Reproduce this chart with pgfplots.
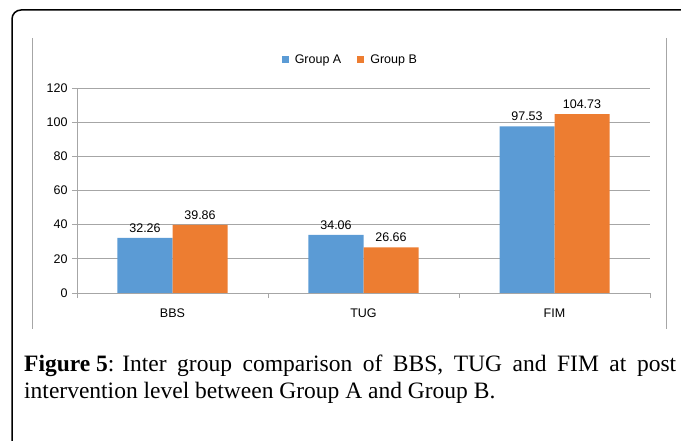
\documentclass[border=0pt]{standalone}
\usepackage{fontspec}
\setmainfont{Liberation Serif}
\setsansfont{Liberation Sans}
\usepackage{pgfplots}
\pgfplotsset{compat=1.18}

\definecolor{grpA}{HTML}{5B9BD5}
\definecolor{grpB}{HTML}{ED7D31}
\definecolor{gridgray}{HTML}{A6A6A6}

\begin{document}
\begin{tikzpicture}
  \useasboundingbox (0pt,0pt) rectangle (681pt,-441pt);
  \clip (0pt,0pt) rectangle (681pt,-441pt);
  % frames
  \draw[black, line width=1.5pt, rounded corners=9pt] (12pt,-10pt) rectangle (720pt,-480pt);
  \draw[gray!70, line width=0.8pt] (32pt,-38pt) -- (32pt,-329pt);
  \draw[gray!70, line width=0.8pt] (666pt,-38pt) -- (666pt,-329pt);

  \begin{axis}[
      at={(77pt,-293pt)}, anchor=south west,
      scale only axis,
      width=573pt, height=205pt,
      ybar=0pt, bar width=55pt,
      xmin=-0.5, xmax=2.5,
      ymin=0, ymax=120,
      ytick={0,20,...,120},
      xtick={0,1,2},
      xticklabels={BBS,TUG,FIM},
      minor xtick={-0.5,0.5,1.5,2.5},
      major x tick style={draw=none},
      minor x tick style={gridgray, line width=0.8pt},
      y tick style={gridgray, line width=0.8pt},
      tick align=outside,
      minor tick length=5pt,
      major tick length=5pt,
      axis x line*=bottom, axis y line*=left,
      axis line style={gridgray, line width=0.8pt, -},
      ymajorgrids, grid style={gridgray, line width=0.8pt},
      every axis plot/.append style={draw=none},
      font=\sffamily\fontsize{12.5}{15}\selectfont,
      /pgf/number format/assume math mode=true,
      xticklabel style={yshift=-7pt},
      yticklabel style={xshift=-1pt},
      nodes near coords,
      nodes near coords style={yshift=2pt, font=\sffamily\fontsize{12.5}{15}\selectfont, /pgf/number format/fixed, /pgf/number format/precision=2, /pgf/number format/fixed zerofill},
      legend style={at={(0.477,1.137)}, anchor=center, draw=none, legend columns=2,
        font=\sffamily\fontsize{12.5}{15}\selectfont,
        /tikz/every odd column/.append style={column sep=4pt},
        /tikz/every even column/.append style={column sep=14pt}},
      legend image code/.code={\fill[#1] (0pt,-3.5pt) rectangle (7pt,3.5pt);},
  ]
  \addplot[fill=grpA] coordinates {(0,32.26) (1,34.06) (2,97.53)};
  \addplot[fill=grpB] coordinates {(0,39.86) (1,26.66) (2,104.73)};
  \legend{Group A, Group B}
  \end{axis}

  % caption
  \node[anchor=base west, inner sep=0] at (24pt,-371pt)
    {\hbox to 652pt{\fontsize{23.5}{27}\selectfont\textbf{Figure 5}: Inter\hfill group\hfill comparison\hfill of\hfill BBS,\hfill TUG\hfill and\hfill FIM\hfill at\hfill post}};
  \node[anchor=base west, inner sep=0] at (24pt,-398pt)
    {\fontsize{23.5}{27}\selectfont intervention level between Group A and Group B.};
\end{tikzpicture}
\end{document}
